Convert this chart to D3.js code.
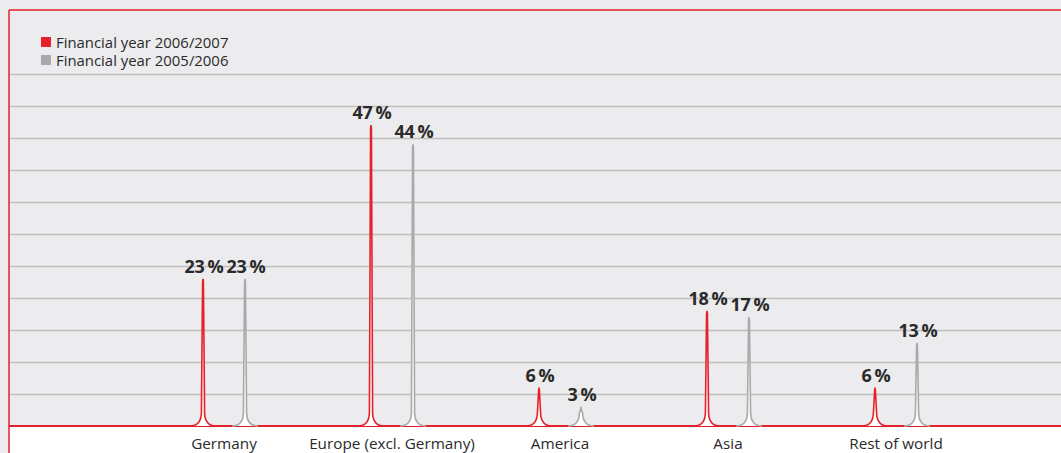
<!DOCTYPE html>
<html lang="en">
<head>
<meta charset="UTF-8">
<title>Sales by region</title>
<script src="https://cdn.jsdelivr.net/npm/d3@7"></script>
<style>
  html,body{margin:0;padding:0;background:#ecebed;}
  svg{display:block;font-family:"Open Sans",sans-serif;}
</style>
</head>
<body>
<script>
var categories=["Germany","Europe (excl. Germany)","America","Asia","Rest of world"]
var fy0607=[23,47,6,18,6]
var fy0506=[23,44,3,17,13]
var seriesNames=["Financial year 2006/2007","Financial year 2005/2006"]
var gridTicks=[5,10,15,20,25,30,35,40,45,50,55]

var width=1061,height=453
var padLeft=9,padTop=10,base=426
var red='#e5202a',grey='#a9a9ab'

var svg=d3.select('body').append('svg').attr('width',width).attr('height',height)

var x=d3.scaleBand().domain(categories).range([140,980])
var y=d3.scaleLinear().domain([0,65]).range([base,padTop])

// white area under baseline
svg.append('rect').attr('x',padLeft).attr('y',base).attr('width',width-padLeft).attr('height',height-base).attr('fill','#fff')

// grid lines
var grid=svg.append('g').attr('transform','translate('+padLeft+',0)')
    .call(d3.axisLeft(y).tickValues(gridTicks).tickSize(-(width-padLeft)).tickFormat(''))
grid.select('.domain').remove()
grid.selectAll('line').attr('stroke','#c0c0c0').attr('stroke-width',1.3)

// baseline and frame
svg.append('line').attr('x1',padLeft).attr('x2',width).attr('y1',base).attr('y2',base).attr('stroke',red).attr('stroke-width',2)
svg.append('line').attr('x1',padLeft).attr('x2',width).attr('y1',padTop).attr('y2',padTop).attr('stroke',red).attr('stroke-width',1.5)
svg.append('line').attr('x1',padLeft).attr('x2',padLeft).attr('y1',padTop).attr('y2',height).attr('stroke',red).attr('stroke-width',1.5)

function spike(cx,ytop){
    var p=d3.path()
    p.moveTo(cx-13,base)
    p.quadraticCurveTo(cx-2,base,cx-1.6,base-13)
    p.lineTo(cx-0.4,ytop+3)
    p.lineTo(cx,ytop)
    p.lineTo(cx+0.4,ytop+3)
    p.lineTo(cx+1.6,base-13)
    p.quadraticCurveTo(cx+2,base,cx+13,base)
    return p.toString()
}

var off=21
var series=[{vals:fy0607,col:red,dx:-off},{vals:fy0506,col:grey,dx:off}]

series.forEach(function(s){
    var g=svg.append('g')
    g.selectAll('path').data(s.vals).enter().append('path')
        .attr('d',function(d,i){return spike(x(categories[i])+x.bandwidth()/2+s.dx,y(d))})
        .attr('fill','#fff').attr('stroke',s.col).attr('stroke-width',1.6)
    g.selectAll('text').data(s.vals).enter().append('text')
        .attr('x',function(d,i){return x(categories[i])+x.bandwidth()/2+s.dx+1})
        .attr('y',function(d){return y(d)-6})
        .attr('text-anchor','middle').attr('font-size',18).attr('font-weight','bold')
        .attr('fill','#2a2a2a').attr('letter-spacing',-0.2)
        .text(function(d){return d+'\u2009%'})
})

// category labels
svg.selectAll('.cat').data(categories).enter().append('text')
    .attr('class','cat')
    .attr('x',function(d){return x(d)+x.bandwidth()/2})
    .attr('y',449)
    .attr('text-anchor','middle').attr('font-size',15.3).attr('fill','#2a2a2a')
    .text(function(d){return d})

// legend
var leg=svg.selectAll('.leg').data(seriesNames).enter().append('g')
    .attr('class','leg').attr('transform',function(d,i){return 'translate(41,'+(37+i*18)+')'})
leg.append('rect').attr('width',10).attr('height',10).attr('fill',function(d,i){return i?grey:red})
leg.append('text').attr('x',15).attr('y',10.5).attr('font-size',14.9).attr('fill','#2a2a2a')
    .text(function(d){return d})
</script>
</body>
</html>
